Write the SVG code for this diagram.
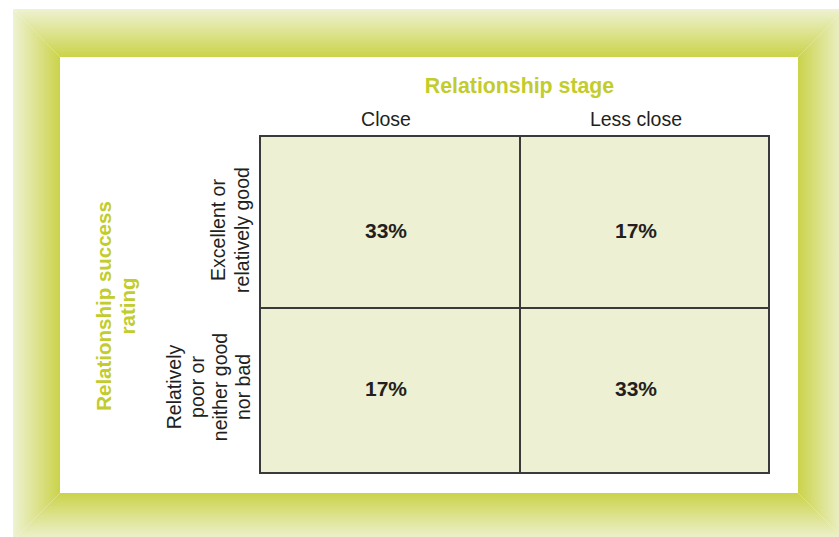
<svg xmlns="http://www.w3.org/2000/svg" width="839" height="537" viewBox="0 0 839 537">
<style>
.hdr{font-family:"Liberation Sans",Arial,sans-serif;font-weight:bold;fill:#c2cc2c;}
.lbl{font-family:"Liberation Sans",Arial,sans-serif;font-size:19.5px;fill:#231f20;}
.pct{font-family:"Liberation Sans",Arial,sans-serif;font-size:21px;font-weight:bold;fill:#231f20;}
.cell{fill:#eef0d4;stroke:#3a3a3a;stroke-width:2;}
.gl{stroke:#3a3a3a;stroke-width:2;fill:none;}
</style>
<defs>
<linearGradient id="gTop" gradientUnits="userSpaceOnUse" x1="0" y1="9" x2="0" y2="57"><stop offset="0" stop-color="#eef2d2"/><stop offset="1" stop-color="#cbd34a"/></linearGradient>
<linearGradient id="gBot" gradientUnits="userSpaceOnUse" x1="0" y1="540" x2="0" y2="493"><stop offset="0" stop-color="#eef2d2"/><stop offset="1" stop-color="#cbd34a"/></linearGradient>
<linearGradient id="gLeft" gradientUnits="userSpaceOnUse" x1="13" y1="0" x2="60" y2="0"><stop offset="0" stop-color="#eef2d2"/><stop offset="1" stop-color="#cbd34a"/></linearGradient>
<linearGradient id="gRight" gradientUnits="userSpaceOnUse" x1="845" y1="0" x2="798" y2="0"><stop offset="0" stop-color="#eef2d2"/><stop offset="1" stop-color="#cbd34a"/></linearGradient>
</defs>
<rect width="839" height="537" fill="#ffffff"/>
<g id="frame">
<polygon points="13,9 845,9 798,57 60,57" fill="url(#gTop)"/>
<polygon points="13,9 60,57 60,493 13,540" fill="url(#gLeft)"/>
<polygon points="845,9 845,540 798,493 798,57" fill="url(#gRight)"/>
<polygon points="13,540 60,493 798,493 845,540" fill="url(#gBot)"/>
<rect x="60" y="57" width="738" height="436" fill="#ffffff"/>
</g>
<g id="title-stage"><text class="hdr" x="519.5" y="92.5" font-size="21.3" text-anchor="middle">Relationship stage</text></g>
<g id="title-rating" transform="translate(0,306) rotate(-90)">
<text class="hdr" font-size="20.5" text-anchor="middle" x="0" y="111">Relationship success</text>
<text class="hdr" font-size="20.5" text-anchor="middle" x="0" y="135">rating</text>
</g>
<g id="col-close"><text class="lbl" x="386" y="125.5" text-anchor="middle">Close</text></g>
<g id="col-less"><text class="lbl" x="636" y="125.5" text-anchor="middle">Less close</text></g>
<g id="row-good" transform="translate(0,230) rotate(-90)">
<text class="lbl" text-anchor="middle" x="0" y="225">Excellent or</text>
<text class="lbl" text-anchor="middle" x="0" y="248.5">relatively good</text>
</g>
<g id="row-poor" transform="translate(0,387) rotate(-90)">
<text class="lbl" text-anchor="middle" x="0" y="180.5">Relatively</text>
<text class="lbl" text-anchor="middle" x="0" y="203.5">poor or</text>
<text class="lbl" text-anchor="middle" x="0" y="227">neither good</text>
<text class="lbl" text-anchor="middle" x="0" y="250">nor bad</text>
</g>
<g id="grid">
<rect class="cell" x="260" y="136" width="509" height="337"/>
<line class="gl" x1="520" y1="136" x2="520" y2="473"/>
<line class="gl" x1="260" y1="308" x2="769" y2="308"/>
</g>
<g id="cell-close-good"><text class="pct" x="386" y="237.5" text-anchor="middle">33%</text></g>
<g id="cell-less-good"><text class="pct" x="636" y="237.5" text-anchor="middle">17%</text></g>
<g id="cell-close-poor"><text class="pct" x="386" y="396" text-anchor="middle">17%</text></g>
<g id="cell-less-poor"><text class="pct" x="636" y="396" text-anchor="middle">33%</text></g>
</svg>
